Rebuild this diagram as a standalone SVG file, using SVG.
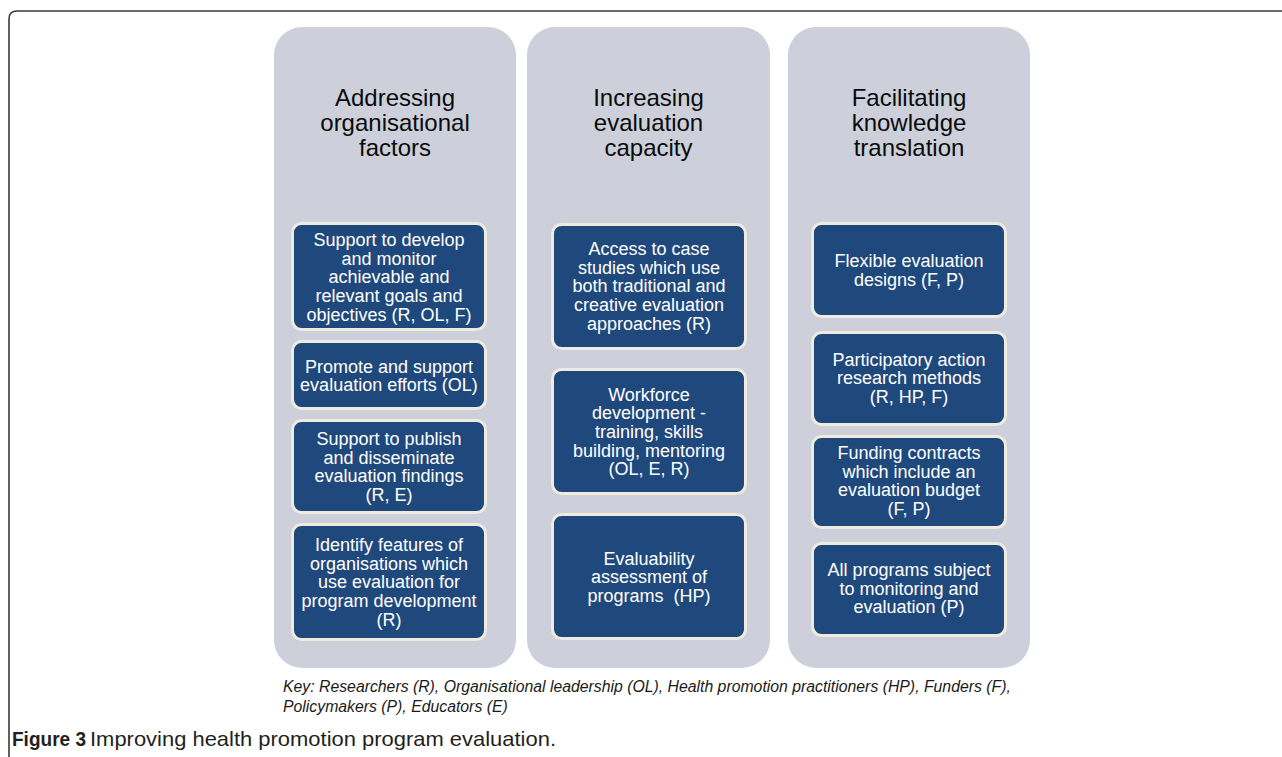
<svg xmlns="http://www.w3.org/2000/svg" width="1282" height="757" viewBox="0 0 1282 757">
<style>
.bg{fill:#ffffff}
.frame{fill:none;stroke:#3a3a3a;stroke-width:1.6}
.col{fill:#CDD0DA}
.box{fill:#1F497D;stroke:#EEECE1;stroke-width:3}
.title{font-family:"Liberation Sans",Arial,sans-serif;font-size:24px;fill:#0a0a0a;text-anchor:middle}
.bt{font-family:"Liberation Sans",Arial,sans-serif;font-size:18px;fill:#ffffff;text-anchor:middle}
.key{font-family:"Liberation Sans",Arial,sans-serif;font-size:15.8px;font-style:italic;fill:#1a1a1a}
.cap{font-family:"Liberation Sans",Arial,sans-serif;font-size:21px;fill:#231F20}
.capb{font-family:"Liberation Sans",Arial,sans-serif;font-size:21px;font-weight:bold;fill:#231F20}
</style>
<rect class="bg" x="0" y="0" width="1282" height="757"/>
<path class="frame" d="M9,757 V19 Q9,11 17,11 H1282"/>
<g id="connectors"></g>

<g id="col1">
<rect class="col" x="274" y="27" width="242" height="641" rx="28"/>
<text class="title" x="395" y="106"><tspan x="395">Addressing</tspan><tspan x="395" dy="25">organisational</tspan><tspan x="395" dy="25">factors</tspan></text>
</g>
<g id="c1b1">
<rect class="box" x="292.5" y="223.5" width="193" height="106" rx="9"/>
<text class="bt" y="246"><tspan x="389">Support to develop</tspan><tspan x="389" dy="18.7">and monitor</tspan><tspan x="389" dy="18.7">achievable and</tspan><tspan x="389" dy="18.7">relevant goals and</tspan><tspan x="389" dy="18.7">objectives (R, OL, F)</tspan></text>
</g>
<g id="c1b2">
<rect class="box" x="292.5" y="341.5" width="193" height="67" rx="9"/>
<text class="bt" y="372.5"><tspan x="389">Promote and support</tspan><tspan x="389" dy="18.7">evaluation efforts (OL)</tspan></text>
</g>
<g id="c1b3">
<rect class="box" x="292.5" y="420.5" width="193" height="92" rx="9"/>
<text class="bt" y="445"><tspan x="389">Support to publish</tspan><tspan x="389" dy="18.7">and disseminate</tspan><tspan x="389" dy="18.7">evaluation findings</tspan><tspan x="389" dy="18.7">(R, E)</tspan></text>
</g>
<g id="c1b4">
<rect class="box" x="292.5" y="524.5" width="193" height="115" rx="9"/>
<text class="bt" y="551"><tspan x="389">Identify features of</tspan><tspan x="389" dy="18.7">organisations which</tspan><tspan x="389" dy="18.7">use evaluation for</tspan><tspan x="389" dy="18.7">program development</tspan><tspan x="389" dy="18.7">(R)</tspan></text>
</g>

<g id="col2">
<rect class="col" x="527" y="27" width="243" height="641" rx="28"/>
<text class="title" y="106"><tspan x="648.5">Increasing</tspan><tspan x="648.5" dy="25">evaluation</tspan><tspan x="648.5" dy="25">capacity</tspan></text>
</g>
<g id="c2b1">
<rect class="box" x="552.5" y="224.5" width="193" height="124" rx="9"/>
<text class="bt" y="255"><tspan x="649">Access to case</tspan><tspan x="649" dy="18.7">studies which use</tspan><tspan x="649" dy="18.7">both traditional and</tspan><tspan x="649" dy="18.7">creative evaluation</tspan><tspan x="649" dy="18.7">approaches (R)</tspan></text>
</g>
<g id="c2b2">
<rect class="box" x="552.5" y="369.5" width="193" height="124" rx="9"/>
<text class="bt" y="400.5"><tspan x="649">Workforce</tspan><tspan x="649" dy="18.7">development -</tspan><tspan x="649" dy="18.7">training, skills</tspan><tspan x="649" dy="18.7">building, mentoring</tspan><tspan x="649" dy="18.7">(OL, E, R)</tspan></text>
</g>
<g id="c2b3">
<rect class="box" x="552.5" y="514.5" width="193" height="124" rx="9"/>
<text class="bt" y="564.5"><tspan x="649">Evaluability</tspan><tspan x="649" dy="18.7">assessment of</tspan><tspan x="649" dy="18.7">programs&#160; (HP)</tspan></text>
</g>

<g id="col3">
<rect class="col" x="788" y="27" width="242" height="641" rx="28"/>
<text class="title" y="106"><tspan x="909">Facilitating</tspan><tspan x="909" dy="25">knowledge</tspan><tspan x="909" dy="25">translation</tspan></text>
</g>
<g id="c3b1">
<rect class="box" x="812.5" y="223.5" width="193" height="93" rx="9"/>
<text class="bt" y="267"><tspan x="909">Flexible evaluation</tspan><tspan x="909" dy="18.7">designs (F, P)</tspan></text>
</g>
<g id="c3b2">
<rect class="box" x="812.5" y="332.5" width="193" height="92" rx="9"/>
<text class="bt" y="365.5"><tspan x="909">Participatory action</tspan><tspan x="909" dy="18.7">research methods</tspan><tspan x="909" dy="18.7">(R, HP, F)</tspan></text>
</g>
<g id="c3b3">
<rect class="box" x="812.5" y="436.5" width="193" height="91" rx="9"/>
<text class="bt" y="459"><tspan x="909">Funding contracts</tspan><tspan x="909" dy="18.7">which include an</tspan><tspan x="909" dy="18.7">evaluation budget</tspan><tspan x="909" dy="18.7">(F, P)</tspan></text>
</g>
<g id="c3b4">
<rect class="box" x="812.5" y="543.5" width="193" height="92" rx="9"/>
<text class="bt" y="576"><tspan x="909">All programs subject</tspan><tspan x="909" dy="18.7">to monitoring and</tspan><tspan x="909" dy="18.7">evaluation (P)</tspan></text>
</g>

<g id="key">
<text class="key" x="283" y="692">Key: Researchers (R), Organisational leadership (OL), Health promotion practitioners (HP), Funders (F),</text>
<text class="key" x="283" y="712">Policymakers (P), Educators (E)</text>
</g>
<g id="caption">
<text class="capb" x="12" y="746" textLength="74" lengthAdjust="spacingAndGlyphs">Figure 3</text>
<text class="cap" x="90" y="746" textLength="466" lengthAdjust="spacingAndGlyphs">Improving health promotion program evaluation.</text>
</g>
</svg>
